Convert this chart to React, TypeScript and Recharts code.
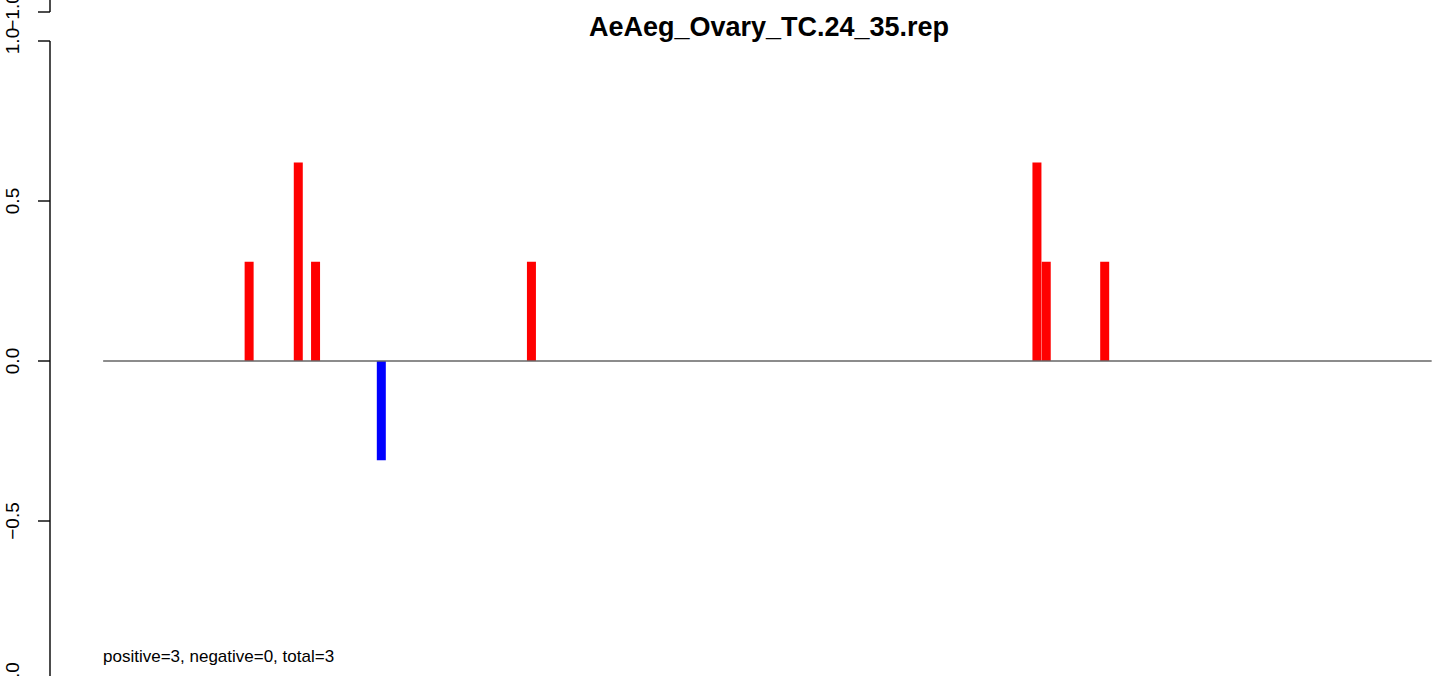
import React from "react";
import { ComposedChart, Bar, Cell, XAxis, YAxis, ReferenceLine } from "recharts";

// ---- data ----
const positions = [110, 147, 160, 209.5, 322.5, 703, 710, 754];
const scores = [0.31, 0.62, 0.31, -0.31, 0.31, 0.62, 0.31, 0.31];
const yTicks = [-1, -0.5, 0, 0.5, 1];
const yTickLabels = ["\u22121.0", "\u22120.5", "0.0", "0.5", "1.0"];
const seqLength = 1000;
const xDomain: [number, number] = [-40, 1040];
const title = "AeAeg_Ovary_TC.24_35.rep";
const summary = "positive=3, negative=0, total=3";

// ---- style ----
const FONT = "'Liberation Sans', Arial, Helvetica, sans-serif";
const POS_COLOR = "#ff0000";
const NEG_COLOR = "#0000ff";
const CHART_W = 1490;
const CHART_H = 720;

type Row = { pos: number; score: number };

const mainRows: Row[] = positions.map((p, i) => ({ pos: p, score: scores[i] }));

const YTick = (props: any) => {
  const { y, payload } = props;
  const i = yTicks.indexOf(payload.value);
  const label = i >= 0 ? yTickLabels[i] : String(payload.value);
  return (
    <text
      x={19}
      y={y}
      transform={`rotate(-90 19 ${y})`}
      textAnchor="middle"
      fontSize={19}
      fontFamily={FONT}
      fill="#000"
    >
      {label}
    </text>
  );
};

function Panel({ rows, heading, note, top }: { rows: Row[]; heading: string; note: string; top: number }) {
  return (
    <div style={{ position: "absolute", left: 0, top, width: CHART_W, height: CHART_H }}>
      <ComposedChart
        width={CHART_W}
        height={CHART_H}
        data={rows}
        margin={{ top: 41, right: 5.2, bottom: 39, left: 0 }}
      >
        <XAxis type="number" dataKey="pos" domain={xDomain} hide allowDataOverflow />
        <YAxis
          type="number"
          domain={[-1, 1]}
          ticks={yTicks}
          width={50}
          tickSize={12}
          axisLine={{ stroke: "#000", strokeWidth: 1.4 }}
          tickLine={{ stroke: "#000", strokeWidth: 1.4 }}
          tick={<YTick />}
          interval={0}
          allowDataOverflow
        />
        <Bar dataKey="score" barSize={9} isAnimationActive={false}>
          {rows.map((r, i) => (
            <Cell key={i} fill={r.score >= 0 ? POS_COLOR : NEG_COLOR} />
          ))}
        </Bar>
        <ReferenceLine
          segment={[
            { x: 0, y: 0 },
            { x: seqLength, y: 0 },
          ]}
          stroke="#666666"
          strokeWidth={1.4}
          ifOverflow="visible"
        />
      </ComposedChart>
      <svg
        width={CHART_W}
        height={CHART_H}
        style={{ position: "absolute", left: 0, top: 0, pointerEvents: "none" }}
      >
        {heading ? (
          <text x={769} y={36} textAnchor="middle" fontSize={27} fontWeight="bold" fontFamily={FONT} fill="#000">
            {heading}
          </text>
        ) : null}
        {note ? (
          <text x={103} y={662} fontSize={17} fontFamily={FONT} fill="#000">
            {note}
          </text>
        ) : null}
      </svg>
    </div>
  );
}

export default function App() {
  return (
    <div
      style={{
        position: "absolute",
        left: 0,
        top: 0,
        width: 1449,
        height: 676,
        overflow: "hidden",
        background: "#fff",
      }}
    >
      {/* lower edge of the panel above (its data lies outside the view) */}
      <Panel rows={[]} heading="" note="" top={-669} />
      <Panel rows={mainRows} heading={title} note={summary} top={0} />
    </div>
  );
}
